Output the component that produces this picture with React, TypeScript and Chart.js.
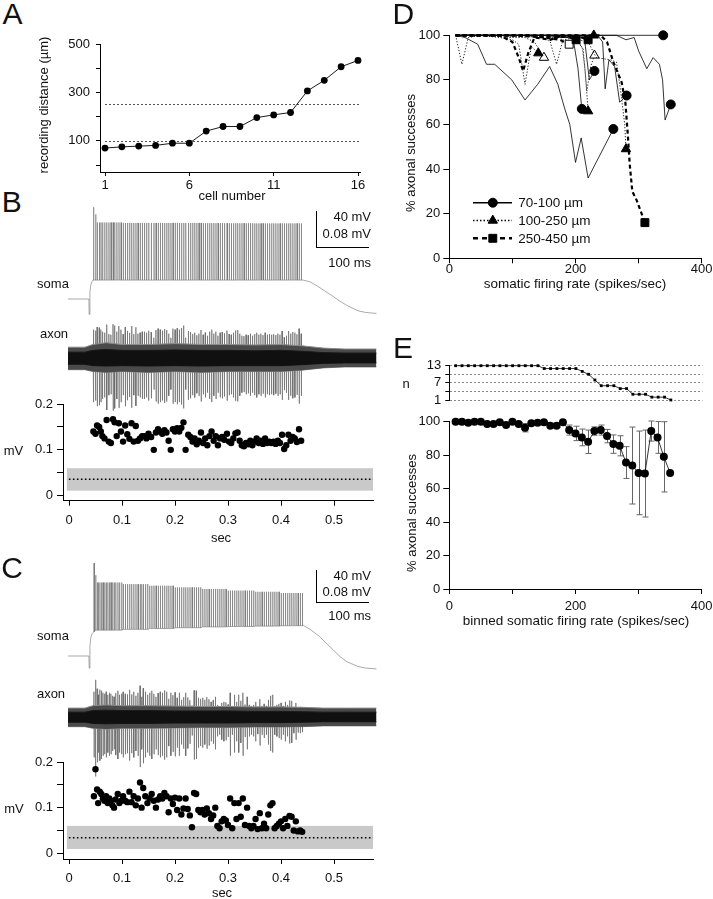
import React, { useEffect, useRef } from 'react';
import { Chart, registerables } from 'chart.js';

Chart.register(...registerables);

const FONT = "'Liberation Sans', Arial, Helvetica, sans-serif";
const INK = '#111';

// ---------------- Panel A data ----------------
const cellNumbers = [1, 2, 3, 4, 5, 6, 7, 8, 9, 10, 11, 12, 13, 14, 15, 16];
const recordingDistanceUm = [70, 75, 78, 81, 90, 90, 140, 159, 159, 196, 207, 217, 306, 350, 406, 432];
const distanceBoundariesUm = [100, 250];
const aYTicks = [0, 100, 200, 300, 400, 500];
const aYLabels = [100, 300, 500];
const aXTicks = [1, 6, 11, 16];

// ---------------- Panel B data ----------------
const spikeTimesB = [0.046, 0.05, 0.053, 0.057, 0.06, 0.063, 0.067, 0.071, 0.075, 0.079, 0.083, 0.086, 0.09, 0.094, 0.098, 0.102, 0.106, 0.11, 0.114, 0.118, 0.122, 0.126, 0.13, 0.134, 0.138, 0.142, 0.146, 0.15, 0.155, 0.16, 0.164, 0.168, 0.172, 0.176, 0.18, 0.184, 0.188, 0.192, 0.196, 0.2, 0.204, 0.208, 0.212, 0.216, 0.22, 0.225, 0.229, 0.233, 0.237, 0.241, 0.245, 0.249, 0.253, 0.257, 0.261, 0.265, 0.269, 0.273, 0.277, 0.281, 0.285, 0.289, 0.293, 0.298, 0.302, 0.306, 0.31, 0.314, 0.318, 0.322, 0.326, 0.33, 0.334, 0.338, 0.342, 0.346, 0.35, 0.354, 0.358, 0.362, 0.366, 0.37, 0.374, 0.378, 0.382, 0.386, 0.39, 0.394, 0.398, 0.402, 0.406, 0.41, 0.414, 0.418, 0.422, 0.426, 0.43, 0.434, 0.438];
const axonAmpB = [0.14, 0.135, 0.153, 0.15, 0.14, 0.13, 0.125, 0.165, 0.118, 0.115, 0.167, 0.16, 0.13, 0.158, 0.14, 0.118, 0.153, 0.134, 0.124, 0.158, 0.118, 0.152, 0.12, 0.125, 0.13, 0.13, 0.125, 0.135, 0.128, 0.1, 0.138, 0.145, 0.14, 0.135, 0.143, 0.138, 0.12, 0.1, 0.145, 0.14, 0.147, 0.14, 0.148, 0.16, 0.1, 0.133, 0.128, 0.118, 0.125, 0.112, 0.12, 0.138, 0.115, 0.125, 0.11, 0.13, 0.14, 0.12, 0.13, 0.11, 0.125, 0.128, 0.122, 0.135, 0.118, 0.115, 0.125, 0.136, 0.138, 0.12, 0.11, 0.108, 0.115, 0.112, 0.12, 0.11, 0.118, 0.125, 0.115, 0.12, 0.113, 0.125, 0.115, 0.118, 0.115, 0.118, 0.113, 0.12, 0.115, 0.133, 0.102, 0.11, 0.133, 0.12, 0.128, 0.125, 0.117, 0.145, 0.12];
const noiseBandB = [0.011, 0.06];
const noiseMeanB = 0.036;
const somaPreB = [[-0.002, -70], [0.0375, -70]];
const somaOnsetB = [[0.038, -87], [0.0395, -62], [0.041, -55], [0.043, -51], [0.045, -49]];
const somaOnsetPeaksB = [32, 24];
const somaPeakBinsB = [16, 15, 14.5, 14.5, 14.5, 14.3, 14.2, 14, 14, 14];
const somaTroughBinsB = [-49, -49, -49, -49, -49, -49, -49, -49, -49, -49];
const somaDecayB = [[0.442, -49], [0.455, -51], [0.467, -55], [0.48, -60], [0.498, -67], [0.51, -72], [0.524, -77], [0.545, -83], [0.56, -85], [0.58, -86]];
const axonNoiseTimes = [-0.002, 0.03, 0.045, 0.07, 0.1, 0.15, 0.2, 0.25, 0.3, 0.35, 0.4, 0.44, 0.48, 0.52, 0.58];
const axonNoiseTopB = [0.024, 0.024, 0.03, 0.034, 0.03, 0.03, 0.032, 0.03, 0.03, 0.029, 0.03, 0.027, 0.022, 0.02, 0.02];
const axonNoiseBotB = [-0.026, -0.026, -0.03, -0.032, -0.03, -0.032, -0.03, -0.032, -0.03, -0.03, -0.03, -0.027, -0.022, -0.02, -0.02];
const axonCoreTopB = [0.013, 0.013, 0.017, 0.019, 0.017, 0.017, 0.018, 0.017, 0.017, 0.016, 0.017, 0.015, 0.012, 0.011, 0.011];
const axonCoreBotB = [-0.014, -0.014, -0.017, -0.018, -0.017, -0.018, -0.017, -0.018, -0.017, -0.017, -0.017, -0.015, -0.012, -0.011, -0.011];

// ---------------- Panel C data ----------------
const spikeTimesC = [0.047, 0.05, 0.053, 0.055, 0.058, 0.061, 0.064, 0.067, 0.07, 0.073, 0.076, 0.079, 0.082, 0.085, 0.088, 0.092, 0.095, 0.099, 0.102, 0.106, 0.11, 0.114, 0.118, 0.122, 0.126, 0.13, 0.134, 0.137, 0.14, 0.144, 0.148, 0.152, 0.156, 0.16, 0.164, 0.168, 0.172, 0.176, 0.18, 0.184, 0.188, 0.192, 0.196, 0.2, 0.204, 0.208, 0.212, 0.216, 0.22, 0.224, 0.228, 0.232, 0.236, 0.24, 0.244, 0.248, 0.252, 0.256, 0.26, 0.264, 0.268, 0.272, 0.276, 0.28, 0.284, 0.288, 0.292, 0.296, 0.3, 0.304, 0.308, 0.312, 0.316, 0.32, 0.324, 0.328, 0.332, 0.336, 0.34, 0.344, 0.348, 0.352, 0.356, 0.36, 0.364, 0.368, 0.372, 0.376, 0.38, 0.384, 0.388, 0.392, 0.396, 0.4, 0.404, 0.408, 0.412, 0.416, 0.42, 0.424, 0.428, 0.432, 0.436, 0.44];
const axonAmpC = [0.125, 0.184, 0.14, 0.11, 0.135, 0.13, 0.12, 0.115, 0.125, 0.11, 0.12, 0.115, 0.105, 0.1, 0.118, 0.13, 0.11, 0.115, 0.125, 0.115, 0.112, 0.135, 0.112, 0.125, 0.105, 0.12, 0.155, 0.1, 0.143, 0.125, 0.11, 0.12, 0.13, 0.115, 0.1, 0.118, 0.125, 0.12, 0.132, 0.125, 0.09, 0.12, 0.108, 0.122, 0.095, 0.12, 0.085, 0.098, 0.12, 0.097, 0.083, 0.057, 0.132, 0.13, 0.095, 0.09, 0.095, 0.085, 0.098, 0.088, 0.075, 0.083, 0.1, 0.06, 0.055, 0.07, 0.075, 0.072, 0.062, 0.12, 0.055, 0.11, 0.075, 0.11, 0.08, 0.12, 0.062, 0.1, 0.06, 0.055, 0.06, 0.075, 0.053, 0.088, 0.055, 0.065, 0.055, 0.085, 0.105, 0.11, 0.055, 0.06, 0.065, 0.07, 0.055, 0.075, 0.06, 0.082, 0.08, 0.05, 0.07, 0.048, 0.05, 0.047];
const noiseBandC = [0.0095, 0.06];
const noiseMeanC = 0.034;
const somaPreC = [[-0.002, -70], [0.0375, -70]];
const somaOnsetC = [[0.038, -85], [0.0395, -58], [0.041, -48], [0.043, -43], [0.045, -41]];
const somaOnsetPeaksC = [45, 30];
const somaPeakBinsC = [24, 21, 19, 17, 15, 13, 11, 9.5, 8, 7];
const somaTroughBinsC = [-40, -38, -37, -36, -35, -34, -33.5, -33, -32.5, -32];
const somaDecayC = [[0.442, -32], [0.455, -37], [0.473, -46], [0.485, -54], [0.498, -62], [0.51, -70], [0.524, -77], [0.545, -83], [0.56, -85], [0.58, -86]];
const axonNoiseTopC = [0.022, 0.022, 0.028, 0.03, 0.028, 0.028, 0.027, 0.026, 0.026, 0.025, 0.025, 0.024, 0.022, 0.022, 0.022];
const axonNoiseBotC = [-0.024, -0.024, -0.028, -0.03, -0.028, -0.028, -0.027, -0.026, -0.026, -0.025, -0.025, -0.024, -0.022, -0.022, -0.022];
const axonCoreTopC = [0.012, 0.012, 0.016, 0.017, 0.016, 0.016, 0.015, 0.015, 0.015, 0.014, 0.014, 0.013, 0.012, 0.012, 0.012];
const axonCoreBotC = [-0.013, -0.013, -0.016, -0.017, -0.016, -0.016, -0.015, -0.015, -0.015, -0.014, -0.014, -0.013, -0.012, -0.012, -0.012];

const secTicks = [0, 0.1, 0.2, 0.3, 0.4, 0.5];
const mvTicks = [0, 0.05, 0.1, 0.15, 0.2];
const mvLabels = [0, 0.1, 0.2];

// ---------------- Panel D data ----------------
const dGroupLabels = ['70-100 \u00b5m', '100-250 \u00b5m', '250-450 \u00b5m'];
const dCell70_1 = [[10, 100], [120, 100], [250, 100], [339, 100]];
const dCell70_2 = [[10, 100], [200, 100], [265, 100], [280, 98], [293, 99], [300, 93], [313, 85], [323, 90], [333, 87], [338, 80], [342, 62], [351, 69]];
const dCell70_3 = [[10, 100], [25, 99], [45, 96], [59, 87], [72, 87], [99, 80], [120, 71], [140, 78], [159, 86], [172, 78], [183, 67], [191, 60], [200, 43], [209, 54], [220, 36], [260, 58]];
const dCell70_4 = [[10, 100], [150, 100], [185, 99], [196, 99], [204, 85], [210, 67]];
const dCell70_5 = [[10, 100], [180, 100], [214, 99], [222, 80], [230, 84]];
const dCell70_6 = [[10, 100], [200, 100], [235, 100], [243, 97], [247, 76], [253, 89], [262, 86], [270, 70], [281, 73]];
const dCell100_1 = [[10, 100], [180, 100], [200, 99], [211, 94], [215, 85], [220, 66]];
const dCell100_2 = [[10, 100], [190, 99], [220, 97], [233, 90], [255, 89], [265, 88], [273, 72], [278, 60], [280, 49]];
const dCell100_3 = [[10, 100], [229, 100]];
const dCell100_4 = [[10, 100], [20, 87], [30, 99], [50, 100], [80, 99], [100, 98], [110, 96], [120, 78], [130, 95], [141, 92]];
const dCell100_5 = [[10, 100], [60, 100], [90, 99], [120, 99], [135, 97], [150, 90]];
const dCell100_6 = [[10, 100], [120, 100], [150, 99], [160, 97], [170, 87], [180, 98], [200, 99], [212, 94], [218, 75], [224, 86], [230, 91]];
const dCell250_1 = [[10, 100], [240, 100], [250, 97], [260, 88], [273, 79], [279, 70], [283, 55], [286, 42], [290, 30], [297, 26], [310, 16]];
const dCell250_2 = [[10, 100], [80, 100], [100, 97], [110, 90], [117, 84], [125, 92], [135, 99], [160, 98], [180, 100], [201, 98]];
const dCell250_3 = [[10, 100], [120, 100], [170, 99], [200, 100], [220, 98]];
const dCell250_4 = [[10, 100], [100, 100], [150, 99], [175, 98], [190, 96]];
const dCells70 = [dCell70_1, dCell70_2, dCell70_3, dCell70_4, dCell70_5, dCell70_6];
const dCells100 = [dCell100_1, dCell100_2, dCell100_3, dCell100_4, dCell100_5, dCell100_6];
const dCells250 = [dCell250_1, dCell250_2, dCell250_3, dCell250_4];
const dOpenEnd70 = [false, false, false, false, false, false];
const dOpenEnd100 = [false, false, false, false, true, true];
const dOpenEnd250 = [false, false, false, true];
const rateTicks = [0, 100, 200, 300, 400];
const rateLabels = [0, 200, 400];
const pctTicks = [0, 20, 40, 60, 80, 100];

// ---------------- Panel E data ----------------
const eRate = [10, 20, 30, 40, 50, 60, 70, 80, 90, 100, 110, 120, 130, 140, 150, 160, 170, 180, 190, 200, 210, 220, 230, 240, 250, 260, 270, 280, 290, 300, 310, 320, 330, 340, 350];
const eSuccess = [100, 100, 99.4, 100, 100, 98.6, 98.6, 99.6, 98, 100, 98.6, 96.4, 99, 99.4, 99.6, 97.6, 97.6, 99.6, 95, 93, 90.6, 88, 94.4, 95, 91.4, 86.6, 85.6, 75.6, 73.8, 69.4, 69, 94.4, 90.6, 79, 69.4];
const eSem = [0, 0, 0.5, 0, 0, 0.8, 0.8, 0.5, 1, 0, 1, 2.5, 0.8, 0.5, 0.5, 1, 1, 0.5, 3, 4.3, 5, 7, 2.5, 3, 4, 5.5, 6, 9.5, 23, 25, 26, 6, 9.5, 21, 0];
const eCellCount = [13, 13, 13, 13, 13, 13, 13, 13, 13, 13, 13, 13, 13, 13, 12, 12, 12, 12, 12, 12, 11, 10, 8, 6, 6, 6, 5, 5, 3, 3, 3, 2, 2, 2, 1];
const nTicks = [1, 4, 7, 10, 13];
const nLabels = [1, 7, 13];

// ---------------- helpers ----------------
type Pt = { x: number; y: number };
type Rect = { x: number; y: number; w: number; h: number };
type Area = { l: number; t: number; r: number; b: number };

const toPts = (xs: number[], ys: number[]): Pt[] => xs.map((x, i) => ({ x, y: ys[i] }));
const pairsToPts = (pairs: number[][]): Pt[] => pairs.map(([x, y]) => ({ x, y }));

const T0_PX = 69;
const PX_PER_SEC = 530;
const SOMA_BIN_SEC = 0.05;
const tAt = (px: number) => (px - T0_PX) / PX_PER_SEC;

function padFor(c: Rect, a: Area, yW: number, xH: number) {
  return { left: a.l - c.x - yW, top: a.t - c.y, right: c.x + c.w - a.r, bottom: c.y + c.h - a.b - xH };
}

function rangeFor(top: number, bottom: number, refPx: number, refVal: number, pxPerUnit: number) {
  return { min: refVal - (bottom - refPx) / pxPerUnit, max: refVal + (refPx - top) / pxPerUnit };
}

function makeAxis(s: any) {
  const horiz = s.pos === 'bottom';
  return {
    type: 'linear',
    position: s.pos,
    bounds: 'data',
    min: s.min,
    max: s.max,
    afterBuildTicks: (sc: any) => {
      sc.ticks = s.ticks.map((v: number) => ({ value: v }));
    },
    afterFit: (sc: any) => {
      if (horiz) sc.height = s.size;
      else sc.width = s.size;
      sc.paddingLeft = 0;
      sc.paddingRight = 0;
      sc.paddingTop = 0;
      sc.paddingBottom = 0;
    },
    ticks: {
      autoSkip: false,
      maxRotation: 0,
      minRotation: 0,
      padding: s.pad,
      color: INK,
      font: { family: FONT, size: s.fontSize || 13 },
      callback: (v: number) => (s.labels.includes(v) ? String(v) : ''),
    },
    grid: {
      display: true,
      drawOnChartArea: !!s.gridDash,
      drawTicks: true,
      tickLength: s.tl,
      tickColor: '#000',
      tickWidth: 1,
      color: s.gridColor || '#000',
      lineWidth: 1,
    },
    border: { display: true, color: '#000', width: 1, dash: s.gridDash || [] },
  };
}

const base = (padding: any) => ({
  responsive: false,
  animation: false,
  devicePixelRatio: 1,
  events: [],
  layout: { padding },
  plugins: { legend: { display: false }, tooltip: { enabled: false }, title: { display: false } },
});

function buildSoma(times: number[], onsetPeaks: number[], peakBins: number[], troughBins: number[], pre: number[][], onset: number[][], decay: number[][]): Pt[] {
  const pts: Pt[] = [...pairsToPts(pre), ...pairsToPts(onset)];
  times.forEach((t, i) => {
    const bin = Math.min(Math.floor(t / SOMA_BIN_SEC + 1e-9), peakBins.length - 1);
    const trough = troughBins[bin];
    const peak = i < onsetPeaks.length ? onsetPeaks[i] : peakBins[bin];
    pts.push({ x: t, y: trough }, { x: t + 0.0003, y: peak }, { x: t + 0.0009, y: trough });
  });
  return pts.concat(pairsToPts(decay));
}

function buildAxonSpikes(times: number[], amps: number[], upFrac: number, downFrac: number): Pt[] {
  const pts: Pt[] = [];
  times.forEach((t, i) => {
    const a = amps[i];
    pts.push({ x: t - 0.0004, y: 0 }, { x: t, y: a * upFrac }, { x: t + 0.0004, y: -a * downFrac }, { x: t + 0.0008, y: 0 });
  });
  return pts;
}

function traceConfig(canvas: Rect, spec: any) {
  const top = canvas.y;
  const bottom = canvas.y + canvas.h;
  const soma = rangeFor(top, bottom, spec.somaRefPx, -70, spec.somaPxPerMv);
  const axon = rangeFor(top, bottom, spec.axonRefPx, 0, spec.axonPxPerMv);
  const line = { pointRadius: 0, tension: 0 };
  return {
    type: 'line',
    data: {
      datasets: [
        { ...line, data: toPts(axonNoiseTimes, spec.coreTop), yAxisID: 'yAxon', fill: '+1', backgroundColor: '#101010', borderColor: '#1a1a1a', borderWidth: 1 },
        { ...line, data: toPts(axonNoiseTimes, spec.coreBot), yAxisID: 'yAxon', fill: false, borderColor: '#1a1a1a', borderWidth: 1 },
        { ...line, data: toPts(axonNoiseTimes, spec.noiseTop), yAxisID: 'yAxon', fill: '+1', backgroundColor: '#4a4a4a', borderColor: '#8a8a8a', borderWidth: 1 },
        { ...line, data: toPts(axonNoiseTimes, spec.noiseBot), yAxisID: 'yAxon', fill: false, borderColor: '#8a8a8a', borderWidth: 1 },
        { ...line, data: buildAxonSpikes(spec.times, spec.amps, spec.upFrac, spec.downFrac), yAxisID: 'yAxon', fill: false, borderColor: '#6a6a6a', borderWidth: 0.7 },
        { ...line, data: spec.soma, yAxisID: 'ySoma', fill: false, borderColor: '#707070', borderWidth: 0.6 },
      ],
    },
    options: {
      ...base({ left: 0, top: 0, right: 0, bottom: 0 }),
      scales: {
        x: { type: 'linear', display: false, bounds: 'data', min: tAt(canvas.x), max: tAt(canvas.x + canvas.w) },
        ySoma: { type: 'linear', display: false, bounds: 'data', ...soma },
        yAxon: { type: 'linear', display: false, bounds: 'data', ...axon },
      },
    },
  };
}

function noiseBandPlugin(band: number[], mean: number, startT: number) {
  return {
    id: 'noiseBand',
    beforeDatasetsDraw(chart: any) {
      const { ctx, chartArea, scales } = chart;
      const x0 = scales.x.getPixelForValue(startT);
      const yHi = scales.y.getPixelForValue(band[1]);
      const yLo = scales.y.getPixelForValue(band[0]);
      ctx.save();
      ctx.fillStyle = '#c9c9c9';
      ctx.fillRect(x0, yHi, chartArea.right - x0, yLo - yHi);
      const ym = scales.y.getPixelForValue(mean);
      ctx.strokeStyle = '#000';
      ctx.lineWidth = 1.6;
      ctx.setLineDash([1.6, 2.4]);
      ctx.beginPath();
      ctx.moveTo(x0 + 2, ym);
      ctx.lineTo(chartArea.right, ym);
      ctx.stroke();
      ctx.restore();
    },
  };
}

function scatterConfig(canvas: Rect, area: Area, times: number[], amps: number[], band: number[], mean: number, yMin: number, xH: number, xPad: number) {
  return {
    type: 'line',
    data: {
      datasets: [
        { data: toPts(times, amps), showLine: false, pointRadius: 3.2, pointBackgroundColor: '#000', pointBorderWidth: 0, borderColor: '#000' },
      ],
    },
    options: {
      ...base(padFor(canvas, area, 40, xH)),
      scales: {
        x: makeAxis({ pos: 'bottom', min: tAt(area.l), max: tAt(area.r), ticks: secTicks, labels: secTicks, size: xH, tl: 5, pad: xPad }),
        y: makeAxis({ pos: 'left', min: yMin, max: 0.2, ticks: mvTicks, labels: mvLabels, size: 40, tl: 6, pad: 4 }),
      },
    },
    plugins: [noiseBandPlugin(band, mean, -0.004)],
  };
}

function drawMarker(ctx: any, style: string, x: number, y: number, r: number, fill: string) {
  ctx.beginPath();
  if (style === 'circle') ctx.arc(x, y, r, 0, Math.PI * 2);
  else if (style === 'triangle') {
    ctx.moveTo(x, y - r);
    ctx.lineTo(x + r * 0.866, y + r * 0.5);
    ctx.lineTo(x - r * 0.866, y + r * 0.5);
    ctx.closePath();
  } else ctx.rect(x - r * 0.707, y - r * 0.707, r * 1.414, r * 1.414);
  ctx.fillStyle = fill;
  ctx.fill();
  ctx.setLineDash([]);
  ctx.strokeStyle = '#000';
  ctx.lineWidth = 1;
  ctx.stroke();
}

const dStyles = [
  { dash: [] as number[], width: 0.8, marker: 'circle', r: 4.5, legendWidth: 1.6, legendDash: [] as number[] },
  { dash: [1.2, 1.8], width: 0.9, marker: 'triangle', r: 5.4, legendWidth: 1.6, legendDash: [1.5, 2] },
  { dash: [4, 3], width: 2.2, marker: 'rect', r: 5.6, legendWidth: 2.4, legendDash: [5, 4] },
];

const dLegendPlugin = {
  id: 'dLegend',
  afterDatasetsDraw(chart: any) {
    const { ctx, chartArea } = chart;
    ctx.save();
    dGroupLabels.forEach((label, i) => {
      const st = dStyles[i];
      const y = chartArea.bottom - 55.6 + i * 17.8;
      ctx.strokeStyle = '#000';
      ctx.lineWidth = st.legendWidth;
      ctx.setLineDash(st.legendDash);
      ctx.beginPath();
      ctx.moveTo(chartArea.left + 23.7, y);
      ctx.lineTo(chartArea.left + 62.7, y);
      ctx.stroke();
      drawMarker(ctx, st.marker, chartArea.left + 43.5, y, st.r, '#000');
      ctx.fillStyle = INK;
      ctx.font = `13.5px ${FONT}`;
      ctx.textBaseline = 'middle';
      ctx.textAlign = 'left';
      ctx.fillText(label, chartArea.left + 69, y + 0.5);
    });
    ctx.restore();
  },
};

const aGuidePlugin = {
  id: 'aGuides',
  beforeDatasetsDraw(chart: any) {
    const { ctx, chartArea, scales } = chart;
    const x0 = scales.x.getPixelForValue(cellNumbers[0]);
    ctx.save();
    ctx.strokeStyle = '#555';
    ctx.lineWidth = 1;
    ctx.setLineDash([2, 2]);
    distanceBoundariesUm.forEach((v) => {
      const y = Math.round(scales.y.getPixelForValue(v)) + 0.5;
      ctx.beginPath();
      ctx.moveTo(x0, y);
      ctx.lineTo(chartArea.right, y);
      ctx.stroke();
    });
    ctx.restore();
  },
};

const eErrorBarPlugin = {
  id: 'eErr',
  beforeDatasetsDraw(chart: any) {
    const { ctx, scales } = chart;
    ctx.save();
    ctx.strokeStyle = '#666';
    ctx.lineWidth = 1;
    eRate.forEach((r, i) => {
      const e = eSem[i];
      if (!e) return;
      const px = Math.round(scales.x.getPixelForValue(r)) + 0.5;
      const top = scales.y.getPixelForValue(eSuccess[i] + e);
      const bot = scales.y.getPixelForValue(eSuccess[i] - e);
      ctx.beginPath();
      ctx.moveTo(px, top);
      ctx.lineTo(px, bot);
      ctx.moveTo(px - 3, top);
      ctx.lineTo(px + 3, top);
      ctx.moveTo(px - 3, bot);
      ctx.lineTo(px + 3, bot);
      ctx.stroke();
    });
    ctx.restore();
  },
};

// ---------------- layout ----------------
const A_CANVAS: Rect = { x: 50, y: 28, w: 330, h: 185 };
const A_AREA: Area = { l: 100, t: 44, r: 360, b: 172 };
const B_TRACE: Rect = { x: 60, y: 195, w: 320, h: 225 };
const B_SCAT: Rect = { x: 0, y: 392, w: 385, h: 160 };
const B_SCAT_AREA: Area = { l: 63, t: 404, r: 373, b: 500.7 };
const C_TRACE: Rect = { x: 60, y: 555, w: 320, h: 225 };
const C_SCAT: Rect = { x: 0, y: 750, w: 385, h: 149 };
const C_SCAT_AREA: Area = { l: 63, t: 762, r: 373, b: 859 };
const D_CANVAS: Rect = { x: 400, y: 22, w: 313, h: 262 };
const D_AREA: Area = { l: 449.3, t: 35.3, r: 701.7, b: 258.3 };
const EN_CANVAS: Rect = { x: 400, y: 352, w: 313, h: 60 };
const EN_AREA: Area = { l: 449.3, t: 365.7, r: 702.5, b: 400 };
const E_CANVAS: Rect = { x: 400, y: 410, w: 313, h: 220 };
const E_AREA: Area = { l: 449.3, t: 421.7, r: 701.7, b: 589 };

const configA = () => ({
  type: 'line',
  data: {
    datasets: [
      { data: toPts(cellNumbers, recordingDistanceUm), borderColor: '#000', borderWidth: 0.9, pointRadius: 3.4, pointBackgroundColor: '#000', pointBorderWidth: 0, tension: 0, clip: false },
    ],
  },
  options: {
    ...base(padFor(A_CANVAS, A_AREA, 40, 25)),
    scales: {
      x: makeAxis({ pos: 'bottom', min: 1 - 5 / (253 / 15), max: 16 + 2 / (253 / 15), ticks: aXTicks, labels: aXTicks, size: 25, tl: 4, pad: 2 }),
      y: makeAxis({ pos: 'left', min: -7 / 0.242, max: 500, ticks: aYTicks, labels: aYLabels, size: 40, tl: 4, pad: 6 }),
    },
  },
  plugins: [aGuidePlugin],
});

const configBTrace = () =>
  traceConfig(B_TRACE, {
    somaRefPx: 299, somaPxPerMv: 0.9, axonRefPx: 358, axonPxPerMv: 450,
    noiseTop: axonNoiseTopB, noiseBot: axonNoiseBotB, coreTop: axonCoreTopB, coreBot: axonCoreBotB,
    times: spikeTimesB, amps: axonAmpB, upFrac: 0.45, downFrac: 0.7,
    soma: buildSoma(spikeTimesB, somaOnsetPeaksB, somaPeakBinsB, somaTroughBinsB, somaPreB, somaOnsetB, somaDecayB),
  });

const configCTrace = () =>
  traceConfig(C_TRACE, {
    somaRefPx: 656, somaPxPerMv: 0.8075, axonRefPx: 717, axonPxPerMv: 403.75,
    noiseTop: axonNoiseTopC, noiseBot: axonNoiseBotC, coreTop: axonCoreTopC, coreBot: axonCoreBotC,
    times: spikeTimesC, amps: axonAmpC, upFrac: 0.5, downFrac: 0.8,
    soma: buildSoma(spikeTimesC, somaOnsetPeaksC, somaPeakBinsC, somaTroughBinsC, somaPreC, somaOnsetC, somaDecayC),
  });

const configBScatter = () => scatterConfig(B_SCAT, B_SCAT_AREA, spikeTimesB, axonAmpB, noiseBandB, noiseMeanB, -5 / 458.5, 30, 6.5);
const configCScatter = () => scatterConfig(C_SCAT, C_SCAT_AREA, spikeTimesC, axonAmpC, noiseBandC, noiseMeanC, -5.7 / 456.5, 25, 7);

function dDatasets() {
  const groups = [
    { cells: dCells70, open: dOpenEnd70, st: dStyles[0] },
    { cells: dCells100, open: dOpenEnd100, st: dStyles[1] },
    { cells: dCells250, open: dOpenEnd250, st: dStyles[2] },
  ];
  const out: any[] = [];
  groups.forEach((g) => {
    g.cells.forEach((cell, ci) => {
      const last = cell.length - 1;
      out.push({
        data: pairsToPts(cell),
        borderColor: '#000',
        borderWidth: g.st.width,
        borderDash: g.st.dash,
        tension: 0,
        fill: false,
        clip: false,
        pointStyle: g.st.marker,
        pointRadius: (c: any) => (c.dataIndex === last ? g.st.r : 0),
        pointBackgroundColor: g.open[ci] ? '#fff' : '#000',
        pointBorderColor: '#000',
        pointBorderWidth: 1,
      });
    });
  });
  return out;
}

const configD = () => ({
  type: 'line',
  data: { datasets: dDatasets() },
  options: {
    ...base(padFor(D_CANVAS, D_AREA, 35, 22)),
    scales: {
      x: makeAxis({ pos: 'bottom', min: 0, max: 400, ticks: rateTicks, labels: rateLabels, size: 22, tl: 5, pad: -2 }),
      y: makeAxis({ pos: 'left', min: 0, max: 100, ticks: pctTicks, labels: pctTicks, size: 35, tl: 6, pad: 3 }),
    },
  },
  plugins: [dLegendPlugin],
});

const configEN = () => ({
  type: 'line',
  data: {
    datasets: [
      { data: toPts(eRate, eCellCount), borderColor: '#000', borderWidth: 0.8, pointStyle: 'rect', pointRadius: 2, pointBackgroundColor: '#000', pointBorderWidth: 0, tension: 0, clip: false },
    ],
  },
  options: {
    ...base(padFor(EN_CANVAS, EN_AREA, 35, 0)),
    scales: {
      x: { type: 'linear', display: false, bounds: 'data', min: 0, max: 400 },
      y: makeAxis({ pos: 'left', min: 1, max: 13, ticks: nTicks, labels: nLabels, size: 35, tl: 4, pad: 4, gridDash: [2, 2], gridColor: '#888' }),
    },
  },
});

const configE = () => ({
  type: 'line',
  data: {
    datasets: [
      { data: toPts(eRate, eSuccess), borderColor: '#000', borderWidth: 0.8, pointRadius: 4, pointBackgroundColor: '#000', pointBorderWidth: 0, tension: 0, clip: false },
    ],
  },
  options: {
    ...base(padFor(E_CANVAS, E_AREA, 35, 26)),
    scales: {
      x: makeAxis({ pos: 'bottom', min: 0, max: 400, ticks: rateTicks, labels: rateLabels, size: 26, tl: 5, pad: 5 }),
      y: makeAxis({ pos: 'left', min: 0, max: 100, ticks: pctTicks, labels: pctTicks, size: 35, tl: 6, pad: 3 }),
    },
  },
  plugins: [eErrorBarPlugin],
});

// ---------------- components ----------------
function ChartCanvas({ rect, build }: { rect: Rect; build: () => any }) {
  const ref = useRef<HTMLCanvasElement | null>(null);
  useEffect(() => {
    if (!ref.current) return;
    const chart = new Chart(ref.current, build());
    return () => chart.destroy();
  }, []);
  return (
    <canvas
      ref={ref}
      width={rect.w}
      height={rect.h}
      style={{ position: 'absolute', left: rect.x, top: rect.y, width: rect.w, height: rect.h }}
    />
  );
}

function Label({ x, y, text, size = 13, rotate = false, align = 'center' }: { x: number; y: number; text: string; size?: number; rotate?: boolean; align?: string }) {
  const tx = align === 'center' ? '-50%' : align === 'right' ? '-100%' : '0';
  return (
    <div
      style={{
        position: 'absolute',
        left: x,
        top: y,
        transform: `translate(${tx}, -50%)${rotate ? ' rotate(-90deg)' : ''}`,
        font: `${size}px ${FONT}`,
        lineHeight: 1,
        whiteSpace: 'nowrap',
        color: INK,
      }}
    >
      {text}
    </div>
  );
}

function ScaleBar({ x, yTop, yBottom, len }: { x: number; yTop: number; yBottom: number; len: number }) {
  return (
    <>
      <div style={{ position: 'absolute', left: x, top: yTop, width: 1, height: yBottom - yTop, background: '#000' }} />
      <div style={{ position: 'absolute', left: x, top: yBottom, width: len, height: 1, background: '#000' }} />
    </>
  );
}

export default function App() {
  return (
    <div style={{ position: 'absolute', left: 0, top: 0, width: 713, height: 899, overflow: 'hidden', background: '#fff' }}>
      <ChartCanvas rect={A_CANVAS} build={configA} />
      <ChartCanvas rect={B_TRACE} build={configBTrace} />
      <ChartCanvas rect={B_SCAT} build={configBScatter} />
      <ChartCanvas rect={C_TRACE} build={configCTrace} />
      <ChartCanvas rect={C_SCAT} build={configCScatter} />
      <ChartCanvas rect={D_CANVAS} build={configD} />
      <ChartCanvas rect={EN_CANVAS} build={configEN} />
      <ChartCanvas rect={E_CANVAS} build={configE} />

      <Label x={12.5} y={14} text="A" size={30} />
      <Label x={11.7} y={202} text="B" size={30} />
      <Label x={12} y={568} text="C" size={30} />
      <Label x={403.3} y={14} text="D" size={30} />
      <Label x={403} y={347.5} text="E" size={30} />

      <Label x={43} y={105} text={'recording distance (\u00b5m)'} rotate />
      <Label x={232} y={195} text="cell number" />

      <Label x={53} y={283} text="soma" />
      <Label x={54} y={333} text="axon" />
      <ScaleBar x={316} yTop={211} yBottom={247} len={53} />
      <Label x={371} y={216} text="40 mV" align="right" />
      <Label x={371} y={233} text="0.08 mV" align="right" />
      <Label x={371} y={262} text="100 ms" align="right" />
      <Label x={13.5} y={450} text="mV" />
      <Label x={221} y={537} text="sec" />

      <Label x={53} y={635} text="soma" />
      <Label x={51} y={693} text="axon" />
      <ScaleBar x={316} yTop={570} yBottom={602} len={53} />
      <Label x={371} y={575} text="40 mV" align="right" />
      <Label x={371} y={590.5} text="0.08 mV" align="right" />
      <Label x={371} y={615} text="100 ms" align="right" />
      <Label x={14} y={808} text="mV" />
      <Label x={222} y={892} text="sec" />

      <Label x={410} y={153} text="% axonal successes" rotate />
      <Label x={575} y={283.5} text="somatic firing rate (spikes/sec)" size={13.5} />

      <Label x={406} y={383} text="n" />
      <Label x={411} y={512.7} text="% axonal successes" rotate />
      <Label x={576} y={621} text="binned somatic firing rate (spikes/sec)" size={13.5} />
    </div>
  );
}
